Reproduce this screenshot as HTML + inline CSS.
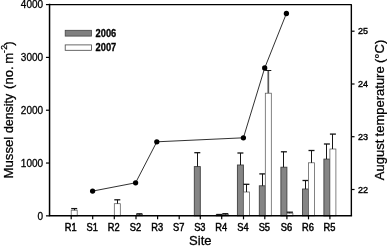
<!DOCTYPE html><html><head><meta charset="utf-8"><title>Chart</title>
<style>html,body{margin:0;padding:0;background:#fff}svg{display:block}text{font-family:"Liberation Sans",Arial,sans-serif;fill:#000;stroke:#000;stroke-width:0.28px}</style></head><body>
<svg width="387" height="246" viewBox="0 0 387 246">
<rect width="387" height="246" fill="#fff"/>
<rect x="71.2" y="210.2" width="6.0" height="5.7" fill="#fff" stroke="#5a5a5a" stroke-width="0.75"/>
<path d="M74.5 210.2V208.6" stroke="#151515" stroke-width="1" fill="none"/><path d="M71.2 208.6H77.2" stroke="#151515" stroke-width="1.3" fill="none"/>
<rect x="114.3" y="203.7" width="6.0" height="12.2" fill="#fff" stroke="#5a5a5a" stroke-width="0.75"/>
<path d="M117.5 203.7V199.8" stroke="#151515" stroke-width="1" fill="none"/><path d="M114.3 199.8H120.3" stroke="#151515" stroke-width="1.3" fill="none"/>
<rect x="136.4" y="214.6" width="6.0" height="1.2" fill="#fff" stroke="#5a5a5a" stroke-width="0.75"/>
<path d="M139.5 214.6V213.8" stroke="#151515" stroke-width="1" fill="none"/><path d="M136.4 213.8H142.4" stroke="#151515" stroke-width="1.3" fill="none"/>
<rect x="194.3" y="166.6" width="6.0" height="49.2" fill="#858585" stroke="#404040" stroke-width="0.9"/>
<path d="M197.5 166.6V152.7" stroke="#151515" stroke-width="1" fill="none"/><path d="M194.3 152.7H200.3" stroke="#151515" stroke-width="1.3" fill="none"/>
<rect x="216.3" y="214.8" width="6.0" height="1.0" fill="#858585" stroke="#404040" stroke-width="0.9"/>
<path d="M219.5 214.8V214.5" stroke="#151515" stroke-width="1" fill="none"/><path d="M216.3 214.5H222.3" stroke="#151515" stroke-width="1.3" fill="none"/>
<rect x="222.3" y="214.5" width="6.0" height="1.3" fill="#fff" stroke="#5a5a5a" stroke-width="0.75"/>
<path d="M225.5 214.5V213.7" stroke="#151515" stroke-width="1" fill="none"/><path d="M222.3 213.7H228.3" stroke="#151515" stroke-width="1.3" fill="none"/>
<rect x="237.4" y="165" width="6.0" height="50.8" fill="#858585" stroke="#404040" stroke-width="0.9"/>
<path d="M240.5 165V153" stroke="#151515" stroke-width="1" fill="none"/><path d="M237.4 153H243.4" stroke="#151515" stroke-width="1.3" fill="none"/>
<rect x="243.4" y="192" width="6.0" height="23.8" fill="#fff" stroke="#5a5a5a" stroke-width="0.75"/>
<path d="M246.5 192V184.3" stroke="#151515" stroke-width="1" fill="none"/><path d="M243.4 184.3H249.4" stroke="#151515" stroke-width="1.3" fill="none"/>
<rect x="259.3" y="185.8" width="6.0" height="30.0" fill="#858585" stroke="#404040" stroke-width="0.9"/>
<path d="M262.5 185.8V173.9" stroke="#151515" stroke-width="1" fill="none"/><path d="M259.3 173.9H265.3" stroke="#151515" stroke-width="1.3" fill="none"/>
<rect x="265.3" y="93.2" width="6.0" height="122.6" fill="#fff" stroke="#5a5a5a" stroke-width="0.75"/>
<path d="M268.3 93.2V70.5" stroke="#5a5a5a" stroke-width="1.7" fill="none"/><path d="M265.3 70.5H271.3" stroke="#151515" stroke-width="1" fill="none"/>
<rect x="280.9" y="167.2" width="6.0" height="48.7" fill="#858585" stroke="#404040" stroke-width="0.9"/>
<path d="M283.5 167.2V151.8" stroke="#151515" stroke-width="1" fill="none"/><path d="M280.9 151.8H286.9" stroke="#151515" stroke-width="1.3" fill="none"/>
<rect x="286.9" y="213.2" width="6.0" height="2.7" fill="#fff" stroke="#5a5a5a" stroke-width="0.75"/>
<path d="M289.5 213.2V212.2" stroke="#151515" stroke-width="1" fill="none"/><path d="M286.9 212.2H292.9" stroke="#151515" stroke-width="1.3" fill="none"/>
<rect x="302.5" y="189" width="6.0" height="26.8" fill="#858585" stroke="#404040" stroke-width="0.9"/>
<path d="M305.5 189V180.5" stroke="#151515" stroke-width="1" fill="none"/><path d="M302.5 180.5H308.5" stroke="#151515" stroke-width="1.3" fill="none"/>
<rect x="308.5" y="162.8" width="6.0" height="53.0" fill="#fff" stroke="#5a5a5a" stroke-width="0.75"/>
<path d="M311.5 162.8V150.5" stroke="#151515" stroke-width="1" fill="none"/><path d="M308.5 150.5H314.5" stroke="#151515" stroke-width="1.3" fill="none"/>
<rect x="323.9" y="159.1" width="6.0" height="56.8" fill="#858585" stroke="#404040" stroke-width="0.9"/>
<path d="M326.5 159.1V144" stroke="#151515" stroke-width="1" fill="none"/><path d="M323.9 144H329.9" stroke="#151515" stroke-width="1.3" fill="none"/>
<rect x="329.9" y="149" width="6.0" height="66.8" fill="#fff" stroke="#5a5a5a" stroke-width="0.75"/>
<path d="M332.5 149V134.1" stroke="#151515" stroke-width="1" fill="none"/><path d="M329.9 134.1H335.9" stroke="#151515" stroke-width="1.3" fill="none"/>
<polyline points="92.6,191.1 135.6,182.8 156.8,141.8 243.4,137.8 264.7,68 286.4,13.5" fill="none" stroke="#1a1a1a" stroke-width="0.9"/>
<circle cx="92.6" cy="191.1" r="2.65" fill="#000"/>
<circle cx="135.6" cy="182.8" r="2.65" fill="#000"/>
<circle cx="156.8" cy="141.8" r="2.65" fill="#000"/>
<circle cx="243.4" cy="137.8" r="2.65" fill="#000"/>
<circle cx="264.7" cy="68" r="2.65" fill="#000"/>
<circle cx="286.4" cy="13.5" r="2.65" fill="#000"/>
<path d="M49.55 4.6V215.85H351.35" fill="none" stroke="#000" stroke-width="1.5" stroke-linecap="square"/>
<path d="M49.55 4.6H351.35V215.85" fill="none" stroke="#000" stroke-width="1.4" stroke-linejoin="round"/>
<path d="M45.949999999999996 4.60H49.55" stroke="#000" stroke-width="1.2"/>
<text x="43.1" y="8.45" font-size="10" text-anchor="end">4000</text>
<path d="M45.949999999999996 57.41H49.55" stroke="#000" stroke-width="1.2"/>
<text x="43.1" y="61.26" font-size="10" text-anchor="end">3000</text>
<path d="M45.949999999999996 110.22H49.55" stroke="#000" stroke-width="1.2"/>
<text x="43.1" y="114.07" font-size="10" text-anchor="end">2000</text>
<path d="M45.949999999999996 163.04H49.55" stroke="#000" stroke-width="1.2"/>
<text x="43.1" y="166.89" font-size="10" text-anchor="end">1000</text>
<path d="M45.949999999999996 215.85H49.55" stroke="#000" stroke-width="1.2"/>
<text x="43.1" y="219.70" font-size="10" text-anchor="end">0</text>
<path d="M351.35 31.2H354.55" stroke="#000" stroke-width="1.2"/>
<text transform="translate(357.9 34.30) scale(0.93 1)" font-size="9.7" style="stroke-width:0.4px">25</text>
<path d="M351.35 84H354.55" stroke="#000" stroke-width="1.2"/>
<text transform="translate(357.9 87.10) scale(0.93 1)" font-size="9.7" style="stroke-width:0.4px">24</text>
<path d="M351.35 136.7H354.55" stroke="#000" stroke-width="1.2"/>
<text transform="translate(357.9 139.80) scale(0.93 1)" font-size="9.7" style="stroke-width:0.4px">23</text>
<path d="M351.35 189.5H354.55" stroke="#000" stroke-width="1.2"/>
<text transform="translate(357.9 192.60) scale(0.93 1)" font-size="9.7" style="stroke-width:0.4px">22</text>
<path d="M71.2 215.85V219.35" stroke="#000" stroke-width="1.2"/>
<text transform="translate(70.7 231.0) scale(0.93 1)" font-size="10" text-anchor="middle" style="stroke-width:0.45px">R1</text>
<path d="M92.7 215.85V219.35" stroke="#000" stroke-width="1.2"/>
<text transform="translate(92.2 231.0) scale(0.93 1)" font-size="10" text-anchor="middle" style="stroke-width:0.45px">S1</text>
<path d="M114.3 215.85V219.35" stroke="#000" stroke-width="1.2"/>
<text transform="translate(113.8 231.0) scale(0.93 1)" font-size="10" text-anchor="middle" style="stroke-width:0.45px">R2</text>
<path d="M136.0 215.85V219.35" stroke="#000" stroke-width="1.2"/>
<text transform="translate(135.5 231.0) scale(0.93 1)" font-size="10" text-anchor="middle" style="stroke-width:0.45px">S2</text>
<path d="M157.6 215.85V219.35" stroke="#000" stroke-width="1.2"/>
<text transform="translate(157.1 231.0) scale(0.93 1)" font-size="10" text-anchor="middle" style="stroke-width:0.45px">R3</text>
<path d="M179.2 215.85V219.35" stroke="#000" stroke-width="1.2"/>
<text transform="translate(178.7 231.0) scale(0.93 1)" font-size="10" text-anchor="middle" style="stroke-width:0.45px">S7</text>
<path d="M200.3 215.85V219.35" stroke="#000" stroke-width="1.2"/>
<text transform="translate(199.8 231.0) scale(0.93 1)" font-size="10" text-anchor="middle" style="stroke-width:0.45px">S3</text>
<path d="M221.7 215.85V219.35" stroke="#000" stroke-width="1.2"/>
<text transform="translate(221.2 231.0) scale(0.93 1)" font-size="10" text-anchor="middle" style="stroke-width:0.45px">R4</text>
<path d="M243.5 215.85V219.35" stroke="#000" stroke-width="1.2"/>
<text transform="translate(243.0 231.0) scale(0.93 1)" font-size="10" text-anchor="middle" style="stroke-width:0.45px">S4</text>
<path d="M264.8 215.85V219.35" stroke="#000" stroke-width="1.2"/>
<text transform="translate(264.3 231.0) scale(0.93 1)" font-size="10" text-anchor="middle" style="stroke-width:0.45px">S5</text>
<path d="M286.9 215.85V219.35" stroke="#000" stroke-width="1.2"/>
<text transform="translate(286.4 231.0) scale(0.93 1)" font-size="10" text-anchor="middle" style="stroke-width:0.45px">S6</text>
<path d="M308.5 215.85V219.35" stroke="#000" stroke-width="1.2"/>
<text transform="translate(308.0 231.0) scale(0.93 1)" font-size="10" text-anchor="middle" style="stroke-width:0.45px">R6</text>
<path d="M329.9 215.85V219.35" stroke="#000" stroke-width="1.2"/>
<text transform="translate(329.4 231.0) scale(0.93 1)" font-size="10" text-anchor="middle" style="stroke-width:0.45px">R5</text>
<text x="200.3" y="245" font-size="13" text-anchor="middle">Site</text>
<rect x="65.2" y="30.3" width="26.2" height="5.8" fill="#808080" stroke="#444" stroke-width="0.8"/>
<rect x="65.2" y="44.9" width="26.2" height="5.4" fill="#fff" stroke="#444" stroke-width="0.8"/>
<text transform="translate(95.6 36.5) scale(0.93 1)" font-size="10" font-weight="bold">2006</text>
<text transform="translate(95.6 50.7) scale(0.93 1)" font-size="10" font-weight="bold">2007</text>
<text transform="translate(12.7 178.5) rotate(-90)" font-size="13.2">Mussel</text>
<text transform="translate(12.7 133.1) rotate(-90) scale(0.94 1)" font-size="13.2">density</text>
<text transform="translate(12.7 0) rotate(-90)" font-size="13.2"><tspan x="-88.9" font-size="13">(no. </tspan><tspan x="-63.7">m</tspan><tspan x="-53" dy="-5.9" font-size="8.5">-</tspan><tspan x="-49.7" font-size="8.5">2</tspan><tspan x="-45.8" dy="5.9">)</tspan></text>
<text transform="translate(383.8 180.2) rotate(-90)" font-size="13" word-spacing="-0.3">August temperature (°C)</text>
</svg></body></html>
